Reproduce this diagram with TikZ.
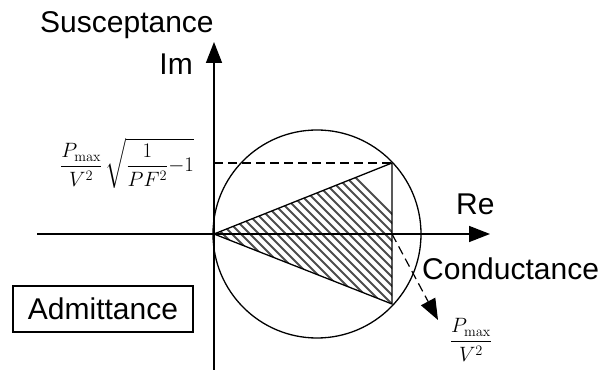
\documentclass[tikz,border=0pt]{standalone}
\usepackage[no-math]{fontspec}
\setmainfont{Liberation Sans}
\usepackage{amsmath}
\usetikzlibrary{arrows.meta, positioning, calc}

\begin{document}
\begin{tikzpicture}[
    x=1pt, y=1pt,
    font=\fontsize{30}{35}\selectfont,
    >={Triangle[length=21pt,width=16pt]},
    % Define styles
    axis/.style={line width=1.6pt, ->},
    curve/.style={line width=1.3pt},
    guide/.style={line width=1.2pt, dash pattern=on 9pt off 5pt},
    hatch/.style={black!70, line width=2pt},
    label/.style={inner sep=0pt},
    formula/.style={inner sep=0pt, font=\fontsize{21}{25}\selectfont},
    framed/.style={draw, line width=1.2pt, minimum width=180pt, minimum height=46pt, inner sep=0pt}
]
\useasboundingbox (0,0) rectangle (612,371);

% 1. Key points
\coordinate (origin) at (214,137);
\coordinate (center) at (317,137);
\coordinate (top) at (392,208);
\coordinate (bottom) at (392,67);
\coordinate (foot) at (392,137);
\coordinate (imlevel) at (214,208);
\coordinate (xstart) at (37,137);
\coordinate (xend) at (490,137);
\coordinate (ystart) at (214,1);
\coordinate (yend) at (214,329);
\coordinate (tip) at (438,51);

% 2. Hatched triangle
\begin{scope}
    \clip (origin) -- (top) -- (bottom) -- cycle;
    \foreach \k in {-12,...,22}
        \draw[hatch] ($(origin)+(9*\k-100,100)$) -- ++(200,-200);
\end{scope}
\draw[curve] (origin) -- (top) -- (bottom) -- cycle;

% 3. Circle and axes
\draw[curve] (center) circle[radius=104];
\draw[axis] (xstart) -- (xend);
\draw[axis] (ystart) -- (yend);

% Guides
\draw[guide] (imlevel) -- (top);
\draw[guide, ->] (foot) -- (tip);

% 4. Labels
\node[label, anchor=base west] (susceptance) at (40,338) {Susceptance};
\node[label, anchor=base east] (im) at (193,296) {Im};
\node[label, anchor=base west] (re) at (456,156) {Re};
\node[label, anchor=base west] (conductance) at (422,91) {Conductance};
\node[framed] (admittance) at (103,62) {Admittance};
\node[formula] (bmax) at (127,208) {$\displaystyle\frac{P_{\max}}{V^2}\,\sqrt{\frac{1}{PF^2}{-}1}$};
\node[formula] (gmax) at (471,31) {$\displaystyle\frac{P_{\max}}{V^2}$};

\end{tikzpicture}
\end{document}
